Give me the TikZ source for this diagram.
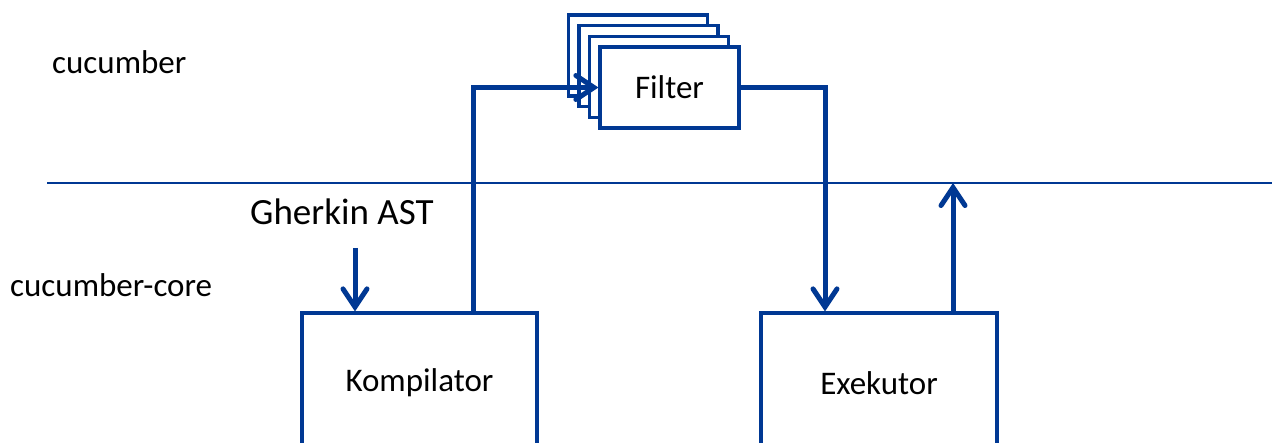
\documentclass[tikz,border=0pt]{standalone}
\usepackage{fontspec}
\setmainfont{Carlito}
\usetikzlibrary{arrows.meta}
\definecolor{dblue}{RGB}{0,56,147}
\tikzset{
  box/.style={draw=dblue, line width=3.2pt, fill=white, inner sep=0pt, font=\fontsize{33}{40}\selectfont},
  flow/.style={draw=dblue, line width=5pt, line join=miter},
  tip/.style={-{Straight Barb[length=18pt,width=24pt,line cap=round]}},
  lbl/.style={inner sep=0pt, anchor=west, font=\fontsize{33}{40}\selectfont}
}
\begin{document}
\begin{tikzpicture}[x=1pt,y=-1pt]
\clip (0,0) rectangle (1272,443);
\fill[white] (0,0) rectangle (1272,443);
% separator
\coordinate (sepL) at (47,183);
\coordinate (sepR) at (1272,183);
\draw[dblue, line width=2pt] (sepL) -- (sepR);
% labels
\node[lbl] (lcuc) at (52,62) {cucumber};
\node[lbl] (lcore) at (10,285) {cucumber-core};
\node[lbl, font=\fontsize{37}{44}\selectfont] (gherkin) at (250,212) {Gherkin AST};
% boxes
\node[box, minimum width=235, minimum height=140] (komp) at (419.5,383) {Kompilator};
\node[box, minimum width=236, minimum height=140] (exe) at (879,383) {Exekutor};
% filter stack
\node[box, minimum width=139, minimum height=81] (filterA) at (638,55.5) {};
\node[box, minimum width=139, minimum height=81] (filterB) at (648.5,66) {};
\node[box, minimum width=139, minimum height=81] (filterC) at (659,77) {};
\node[box, minimum width=139, minimum height=81] (filter) at (669.5,87.5) {Filter};
% connectors
\coordinate (gin) at (355,248);
\draw[flow, tip] (gin) -- (gin |- komp.north);
\draw[flow, tip] ([xshift=53.5]komp.north) |- (filter.west);
\draw[flow, tip] (filter.east) -| ([xshift=-54]exe.north);
\draw[flow, tip] ([xshift=74]exe.north) -- ([xshift=74]exe.north |- sepL);
\end{tikzpicture}
\end{document}
